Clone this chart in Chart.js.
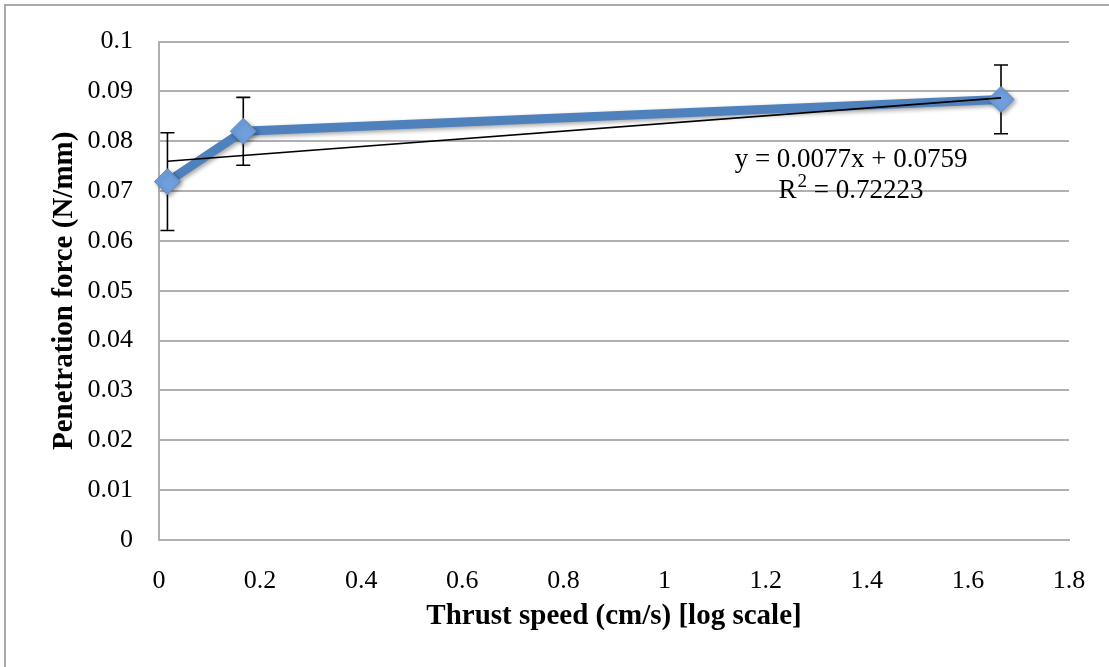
<!DOCTYPE html>
<html>
<head>
<meta charset="utf-8">
<script src="https://cdn.jsdelivr.net/npm/chart.js@4.4.1/dist/chart.umd.min.js"></script>
<style>
  html, body { margin: 0; padding: 0; background: #fff; overflow: hidden; }
  #frame { position: absolute; left: 4px; top: 4px; width: 1200px; height: 800px;
           border-left: 2px solid #a9a9a9; border-top: 2px solid #a9a9a9; }
  #wrap { position: absolute; left: 0; top: 0; width: 1109px; height: 667px; }
</style>
</head>
<body>
<div id="frame"></div>
<div id="wrap"><canvas id="forceChart" width="1109" height="667"></canvas></div>
<script>
// thrust speed (cm/s) and measured penetration force (N/mm)
const speeds = [0.0167, 0.1667, 1.6655];
const forces = [0.0719, 0.0820, 0.0884];
const errors = [0.0098, 0.0068, 0.0069];

// linear trendline
const trendX = [0.0167, 1.6655];
const trendY = [0.0760, 0.0887];
const trendEq = 'y = 0.0077x + 0.0759';
const trendR2 = ['R', '2', ' = 0.72223'];

const xTickLabels = ['0', '0.2', '0.4', '0.6', '0.8', '1', '1.2', '1.4', '1.6', '1.8'];
const yTickLabels = ['0', '0.01', '0.02', '0.03', '0.04', '0.05', '0.06', '0.07', '0.08', '0.09', '0.1'];

Chart.defaults.font.family = "'Liberation Serif', serif";
Chart.defaults.color = '#000';

const errorBars = {
  id: 'errorBars',
  beforeDatasetsDraw(chart) {
    const { ctx, scales: { x, y } } = chart;
    ctx.save();
    ctx.strokeStyle = '#000';
    ctx.lineWidth = 1.6;
    speeds.forEach((s, i) => {
      const px = x.getPixelForValue(s);
      const top = y.getPixelForValue(forces[i] + errors[i]);
      const bot = y.getPixelForValue(forces[i] - errors[i]);
      ctx.beginPath();
      ctx.moveTo(px, top); ctx.lineTo(px, bot);
      ctx.moveTo(px - 7, top); ctx.lineTo(px + 7, top);
      ctx.moveTo(px - 7, bot); ctx.lineTo(px + 7, bot);
      ctx.stroke();
    });
    ctx.restore();
  }
};

const lineShadow = {
  id: 'lineShadow',
  beforeDatasetDraw(chart, args) {
    if (args.index !== 1) return;
    const ctx = chart.ctx;
    ctx.save();
    ctx.shadowColor = 'rgba(0,0,0,0.35)';
    ctx.shadowBlur = 4;
    ctx.shadowOffsetX = 2;
    ctx.shadowOffsetY = 2;
  },
  afterDatasetDraw(chart, args) {
    if (args.index !== 1) return;
    chart.ctx.restore();
  }
};

const trendLabel = {
  id: 'trendLabel',
  afterDatasetsDraw(chart) {
    const { ctx, scales: { x, y } } = chart;
    const big = "27px 'Liberation Serif'", small = "19px 'Liberation Serif'";
    ctx.save();
    ctx.fillStyle = '#000';
    ctx.textBaseline = 'middle';
    const cx = x.getPixelForValue(1.369);
    ctx.font = big;
    ctx.textAlign = 'center';
    ctx.fillText(trendEq, cx, y.getPixelForValue(0.0762));

    // R² with a raised 2
    const y2 = y.getPixelForValue(0.0701);
    ctx.textAlign = 'left';
    const wR = ctx.measureText(trendR2[0]).width;
    const wRest = ctx.measureText(trendR2[2]).width;
    ctx.font = small;
    const w2 = ctx.measureText(trendR2[1]).width;
    let sx = cx - (wR + w2 + 1 + wRest) / 2;
    ctx.font = big;
    ctx.fillText(trendR2[0], sx, y2);
    ctx.font = small;
    ctx.fillText(trendR2[1], sx + wR + 1, y2 - 9);
    ctx.font = big;
    ctx.fillText(trendR2[2], sx + wR + w2 + 1, y2);
    ctx.restore();
  }
};

new Chart(document.getElementById('forceChart'), {
  type: 'scatter',
  data: {
    datasets: [
      {
        label: 'trend',
        data: trendX.map((v, i) => ({ x: v, y: trendY[i] })),
        showLine: true,
        borderColor: '#000',
        borderWidth: 1.6,
        pointRadius: 0,
        order: 0
      },
      {
        label: 'force',
        data: speeds.map((v, i) => ({ x: v, y: forces[i] })),
        showLine: true,
        borderColor: '#4F81BD',
        borderWidth: 9,
        pointStyle: 'rectRot',
        pointRadius: 13,
        pointBackgroundColor: '#6F9FDC',
        pointBorderColor: '#5A8AC8',
        pointBorderWidth: 1,
        clip: false,
        order: 1
      }
    ]
  },
  options: {
    responsive: false,
    animation: false,
    layout: { padding: { left: 0, top: 41, right: 40, bottom: 0 } },
    plugins: { legend: { display: false }, tooltip: { enabled: false } },
    scales: {
      x: {
        type: 'linear', min: 0, max: 1.8,
        afterFit: s => { s.height = 127; },
        grid: { display: false },
        border: { color: '#b0b0b0', width: 2 },
        ticks: { stepSize: 0.2, padding: 18, font: { size: 26 }, maxRotation: 0,
                 callback: (v, i) => xTickLabels[i] },
        title: { display: true, text: 'Thrust speed (cm/s) [log scale]',
                 font: { size: 29, weight: 'bold' }, padding: { top: 0, bottom: 33 } }
      },
      y: {
        type: 'linear', min: 0, max: 0.1,
        afterFit: s => { s.width = 159; },
        grid: { color: '#b0b0b0', lineWidth: 2, drawTicks: false },
        border: { color: '#b0b0b0', width: 2 },
        ticks: { stepSize: 0.01, padding: 26, font: { size: 26 },
                 callback: (v, i) => yTickLabels[i] },
        title: { display: true, text: 'Penetration force (N/mm)',
                 font: { size: 29, weight: 'bold' }, padding: { top: 47, bottom: 0 } }
      }
    }
  },
  plugins: [errorBars, lineShadow, trendLabel]
});
</script>
</body>
</html>
